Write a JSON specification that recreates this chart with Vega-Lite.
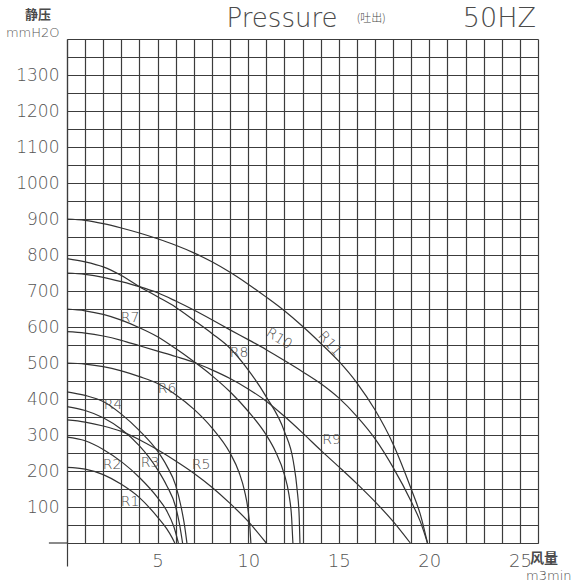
{
  "$schema": "https://vega.github.io/schema/vega-lite/v6.json",
  "width": 471,
  "height": 504,
  "autosize": {"type": "none"},
  "padding": {"left": 67, "top": 39, "right": 35, "bottom": 39},
  "background": "white",
  "config": {
    "view": {"stroke": null},
    "font": "DejaVu Sans",
    "text": {"font": "DejaVu Sans", "color": "#4a4a4a", "fontWeight": 200}
  },
  "resolve": {"axis": {"x": "independent", "y": "independent"}},
  "datasets": {
    "one": [{}],
    "curves": [
      {"c": "R1", "x": 0, "y": 210}, {"c": "R1", "x": 1, "y": 205}, {"c": "R1", "x": 2, "y": 190}, {"c": "R1", "x": 3, "y": 163}, {"c": "R1", "x": 4, "y": 126}, {"c": "R1", "x": 5, "y": 72}, {"c": "R1", "x": 5.5, "y": 40}, {"c": "R1", "x": 5.8, "y": 15}, {"c": "R1", "x": 5.95, "y": 0},
      {"c": "R2", "x": 0, "y": 294}, {"c": "R2", "x": 1, "y": 284}, {"c": "R2", "x": 2, "y": 260}, {"c": "R2", "x": 3, "y": 226}, {"c": "R2", "x": 4, "y": 182}, {"c": "R2", "x": 5, "y": 126}, {"c": "R2", "x": 5.5, "y": 90}, {"c": "R2", "x": 5.9, "y": 45}, {"c": "R2", "x": 6.15, "y": 0},
      {"c": "R3", "x": 0, "y": 379}, {"c": "R3", "x": 1, "y": 368}, {"c": "R3", "x": 2, "y": 348}, {"c": "R3", "x": 3, "y": 316}, {"c": "R3", "x": 4, "y": 270}, {"c": "R3", "x": 4.5, "y": 240}, {"c": "R3", "x": 5, "y": 204}, {"c": "R3", "x": 5.5, "y": 160}, {"c": "R3", "x": 6, "y": 100}, {"c": "R3", "x": 6.2, "y": 55}, {"c": "R3", "x": 6.38, "y": 0},
      {"c": "R4", "x": 0, "y": 420}, {"c": "R4", "x": 1, "y": 410}, {"c": "R4", "x": 2, "y": 393}, {"c": "R4", "x": 3, "y": 358}, {"c": "R4", "x": 4, "y": 312}, {"c": "R4", "x": 5, "y": 255}, {"c": "R4", "x": 5.5, "y": 215}, {"c": "R4", "x": 6, "y": 160}, {"c": "R4", "x": 6.3, "y": 100}, {"c": "R4", "x": 6.5, "y": 45}, {"c": "R4", "x": 6.62, "y": 0},
      {"c": "R5", "x": 0, "y": 342}, {"c": "R5", "x": 1, "y": 336}, {"c": "R5", "x": 2, "y": 325}, {"c": "R5", "x": 3, "y": 310}, {"c": "R5", "x": 4, "y": 287}, {"c": "R5", "x": 5, "y": 259}, {"c": "R5", "x": 6, "y": 228}, {"c": "R5", "x": 7, "y": 194}, {"c": "R5", "x": 8, "y": 155}, {"c": "R5", "x": 9, "y": 110}, {"c": "R5", "x": 10, "y": 60}, {"c": "R5", "x": 11, "y": 0},
      {"c": "R6", "x": 0, "y": 500}, {"c": "R6", "x": 1, "y": 497}, {"c": "R6", "x": 2, "y": 490}, {"c": "R6", "x": 3, "y": 478}, {"c": "R6", "x": 4, "y": 462}, {"c": "R6", "x": 5, "y": 443}, {"c": "R6", "x": 6, "y": 412}, {"c": "R6", "x": 7, "y": 372}, {"c": "R6", "x": 8, "y": 320}, {"c": "R6", "x": 9, "y": 250}, {"c": "R6", "x": 9.5, "y": 196}, {"c": "R6", "x": 9.8, "y": 145}, {"c": "R6", "x": 10, "y": 90}, {"c": "R6", "x": 10.1, "y": 40}, {"c": "R6", "x": 10.15, "y": 0},
      {"c": "R7", "x": 0, "y": 650}, {"c": "R7", "x": 1, "y": 645}, {"c": "R7", "x": 2, "y": 635}, {"c": "R7", "x": 3, "y": 619}, {"c": "R7", "x": 4, "y": 598}, {"c": "R7", "x": 5, "y": 573}, {"c": "R7", "x": 6, "y": 540}, {"c": "R7", "x": 7, "y": 504}, {"c": "R7", "x": 8, "y": 465}, {"c": "R7", "x": 9, "y": 420}, {"c": "R7", "x": 10, "y": 366}, {"c": "R7", "x": 11, "y": 300}, {"c": "R7", "x": 11.5, "y": 255}, {"c": "R7", "x": 12, "y": 190}, {"c": "R7", "x": 12.25, "y": 135}, {"c": "R7", "x": 12.4, "y": 70}, {"c": "R7", "x": 12.47, "y": 0},
      {"c": "R8", "x": 0, "y": 790}, {"c": "R8", "x": 1, "y": 781}, {"c": "R8", "x": 2, "y": 767}, {"c": "R8", "x": 3, "y": 743}, {"c": "R8", "x": 4, "y": 712}, {"c": "R8", "x": 5, "y": 684}, {"c": "R8", "x": 6, "y": 655}, {"c": "R8", "x": 7, "y": 619}, {"c": "R8", "x": 8, "y": 582}, {"c": "R8", "x": 9, "y": 541}, {"c": "R8", "x": 10, "y": 481}, {"c": "R8", "x": 11, "y": 406}, {"c": "R8", "x": 12, "y": 310}, {"c": "R8", "x": 12.5, "y": 225}, {"c": "R8", "x": 12.7, "y": 150}, {"c": "R8", "x": 12.82, "y": 70}, {"c": "R8", "x": 12.86, "y": 0},
      {"c": "R9", "x": 0, "y": 587}, {"c": "R9", "x": 1, "y": 583}, {"c": "R9", "x": 2, "y": 575}, {"c": "R9", "x": 3, "y": 563}, {"c": "R9", "x": 4, "y": 548}, {"c": "R9", "x": 5, "y": 533}, {"c": "R9", "x": 6, "y": 518}, {"c": "R9", "x": 7, "y": 502}, {"c": "R9", "x": 8, "y": 481}, {"c": "R9", "x": 9, "y": 457}, {"c": "R9", "x": 10, "y": 428}, {"c": "R9", "x": 11, "y": 394}, {"c": "R9", "x": 12, "y": 352}, {"c": "R9", "x": 13, "y": 306}, {"c": "R9", "x": 14, "y": 258}, {"c": "R9", "x": 15, "y": 212}, {"c": "R9", "x": 16, "y": 165}, {"c": "R9", "x": 17, "y": 115}, {"c": "R9", "x": 18, "y": 60}, {"c": "R9", "x": 18.95, "y": 0},
      {"c": "R10", "x": 0, "y": 750}, {"c": "R10", "x": 1, "y": 746}, {"c": "R10", "x": 2, "y": 738}, {"c": "R10", "x": 3, "y": 726}, {"c": "R10", "x": 4, "y": 712}, {"c": "R10", "x": 5, "y": 695}, {"c": "R10", "x": 6, "y": 672}, {"c": "R10", "x": 7, "y": 647}, {"c": "R10", "x": 8, "y": 620}, {"c": "R10", "x": 9, "y": 592}, {"c": "R10", "x": 10, "y": 565}, {"c": "R10", "x": 11, "y": 537}, {"c": "R10", "x": 12, "y": 507}, {"c": "R10", "x": 13, "y": 476}, {"c": "R10", "x": 14, "y": 443}, {"c": "R10", "x": 15, "y": 403}, {"c": "R10", "x": 16, "y": 352}, {"c": "R10", "x": 17, "y": 290}, {"c": "R10", "x": 18, "y": 210}, {"c": "R10", "x": 19, "y": 115}, {"c": "R10", "x": 19.5, "y": 60}, {"c": "R10", "x": 19.9, "y": 0},
      {"c": "R11", "x": 0, "y": 900}, {"c": "R11", "x": 1, "y": 896}, {"c": "R11", "x": 2, "y": 887}, {"c": "R11", "x": 3, "y": 875}, {"c": "R11", "x": 4, "y": 861}, {"c": "R11", "x": 5, "y": 845}, {"c": "R11", "x": 6, "y": 827}, {"c": "R11", "x": 7, "y": 806}, {"c": "R11", "x": 8, "y": 781}, {"c": "R11", "x": 9, "y": 752}, {"c": "R11", "x": 10, "y": 719}, {"c": "R11", "x": 11, "y": 683}, {"c": "R11", "x": 12, "y": 645}, {"c": "R11", "x": 13, "y": 602}, {"c": "R11", "x": 14, "y": 555}, {"c": "R11", "x": 15, "y": 505}, {"c": "R11", "x": 16, "y": 445}, {"c": "R11", "x": 17, "y": 370}, {"c": "R11", "x": 18, "y": 275}, {"c": "R11", "x": 19, "y": 150}, {"c": "R11", "x": 19.5, "y": 80}, {"c": "R11", "x": 19.9, "y": 0}
    ],
    "labels": [
      {"t": "R1", "x": 3.48, "y": 114},
      {"t": "R2", "x": 2.49, "y": 217},
      {"t": "R3", "x": 4.59, "y": 222},
      {"t": "R4", "x": 2.54, "y": 383},
      {"t": "R5", "x": 7.4, "y": 217},
      {"t": "R6", "x": 5.52, "y": 428},
      {"t": "R7", "x": 3.48, "y": 625},
      {"t": "R8", "x": 9.5, "y": 528},
      {"t": "R9", "x": 14.6, "y": 286},
      {"t": "R10", "x": 11.7, "y": 567},
      {"t": "R11", "x": 14.5, "y": 553}
    ]
  },
  "layer": [
    {
      "data": {"name": "curves"},
      "mark": {"type": "line", "interpolate": "monotone", "stroke": "#333333", "strokeWidth": 1.2},
      "encoding": {
        "x": {
          "field": "x", "type": "quantitative",
          "scale": {"domain": [0, 26], "nice": false, "zero": false},
          "axis": {
            "values": [0,1,2,3,4,5,6,7,8,9,10,11,12,13,14,15,16,17,18,19,20,21,22,23,24,25,26],
            "title": null,
            "grid": true, "gridColor": "#3c3c3c", "gridWidth": 1.2, "gridOpacity": 1,
            "ticks": true, "tickSize": 23, "tickColor": "#3c3c3c", "tickWidth": 1.2,
            "tickOpacity": {"condition": {"test": "datum.value == 0", "value": 1}, "value": 0},
            "domain": true, "domainColor": "#3c3c3c", "domainWidth": 1.2,
            "labelExpr": "datum.value % 5 == 0 && datum.value > 0 && datum.value < 26 ? datum.label : ''",
            "labelFont": "DejaVu Sans", "labelFontWeight": 200, "labelFontSize": 18, "labelColor": "#555555",
            "labelPadding": -14, "labelFlush": false, "labelOverlap": false
          }
        },
        "y": {
          "field": "y", "type": "quantitative",
          "scale": {"domain": [0, 1400], "nice": false, "zero": true},
          "axis": {
            "values": [0,50,100,150,200,250,300,350,400,450,500,550,600,650,700,750,800,850,900,950,1000,1050,1100,1150,1200,1250,1300,1350,1400],
            "title": null, "format": "d",
            "grid": true, "gridColor": "#3c3c3c", "gridWidth": 1.2, "gridOpacity": 1,
            "ticks": false,
            "domain": true, "domainColor": "#3c3c3c", "domainWidth": 1.2,
            "labelExpr": "datum.value == 1400 ? 'mmH2O' : (datum.value % 100 == 0 && datum.value > 0 ? datum.label : '')",
            "labelFont": "DejaVu Sans", "labelFontWeight": 200,
            "labelFontSize": {"condition": {"test": "datum.value == 1400", "value": 13}, "value": 17},
            "labelBaseline": {"condition": {"test": "datum.value == 1400", "value": "bottom"}, "value": "middle"},
            "labelColor": "#555555",
            "labelPadding": 8, "labelFlush": false, "labelOverlap": false
          }
        },
        "detail": {"field": "c"}
      }
    },
    {
      "data": {"name": "labels"},
      "transform": [{"filter": "datum.t != 'R10' && datum.t != 'R11'"}],
      "mark": {"type": "text", "fontSize": 14, "align": "center", "baseline": "middle"},
      "encoding": {
        "x": {"field": "x", "type": "quantitative", "axis": null},
        "y": {"field": "y", "type": "quantitative", "axis": null},
        "text": {"field": "t"}
      }
    },
    {
      "data": {"name": "labels"},
      "transform": [{"filter": "datum.t == 'R10'"}],
      "mark": {"type": "text", "fontSize": 14, "align": "center", "baseline": "middle", "angle": 32},
      "encoding": {
        "x": {"field": "x", "type": "quantitative", "axis": null},
        "y": {"field": "y", "type": "quantitative", "axis": null},
        "text": {"field": "t"}
      }
    },
    {
      "data": {"name": "labels"},
      "transform": [{"filter": "datum.t == 'R11'"}],
      "mark": {"type": "text", "fontSize": 14, "align": "center", "baseline": "middle", "angle": 48},
      "encoding": {
        "x": {"field": "x", "type": "quantitative", "axis": null},
        "y": {"field": "y", "type": "quantitative", "axis": null},
        "text": {"field": "t"}
      }
    },
    {
      "data": {"name": "one"},
      "mark": {"type": "rule", "stroke": "#3c3c3c", "strokeWidth": 1.2},
      "encoding": {
        "x": {"datum": -1, "type": "quantitative", "axis": null},
        "x2": {"datum": 0},
        "y": {"datum": 0, "type": "quantitative", "axis": null}
      }
    },
    {
      "data": {"name": "one"},
      "mark": {"type": "text", "fontSize": 26, "align": "center", "baseline": "middle"},
      "encoding": {"x": {"datum": 11.87, "type": "quantitative", "axis": null}, "y": {"datum": 1456, "type": "quantitative", "axis": null}, "text": {"value": "Pressure"}}
    },
    {
      "data": {"name": "one"},
      "mark": {"type": "text", "fontSize": 11, "align": "center", "baseline": "middle", "font": "Noto Sans CJK SC"},
      "encoding": {"x": {"datum": 16.8, "type": "quantitative", "axis": null}, "y": {"datum": 1456, "type": "quantitative", "axis": null}, "text": {"value": "(吐出)"}}
    },
    {
      "data": {"name": "one"},
      "mark": {"type": "text", "fontSize": 27, "align": "center", "baseline": "middle"},
      "encoding": {"x": {"datum": 23.87, "type": "quantitative", "axis": null}, "y": {"datum": 1456, "type": "quantitative", "axis": null}, "text": {"value": "50HZ"}}
    },
    {
      "data": {"name": "one"},
      "mark": {"type": "text", "fontSize": 13, "align": "center", "baseline": "middle", "font": "Noto Sans CJK SC", "fontWeight": 700},
      "encoding": {"x": {"datum": -1.6, "type": "quantitative", "axis": null}, "y": {"datum": 1467, "type": "quantitative", "axis": null}, "text": {"value": "静压"}}
    },
    {
      "data": {"name": "one"},
      "mark": {"type": "text", "fontSize": 14, "align": "center", "baseline": "middle", "font": "Noto Sans CJK SC", "fontWeight": 700},
      "encoding": {"x": {"datum": 26.33, "type": "quantitative", "axis": null}, "y": {"datum": -44, "type": "quantitative", "axis": null}, "text": {"value": "风量"}}
    },
    {
      "data": {"name": "one"},
      "mark": {"type": "text", "fontSize": 13, "align": "right", "baseline": "middle"},
      "encoding": {"x": {"datum": 27.85, "type": "quantitative", "axis": null}, "y": {"datum": -92, "type": "quantitative", "axis": null}, "text": {"value": "m3min"}}
    }
  ]
}
